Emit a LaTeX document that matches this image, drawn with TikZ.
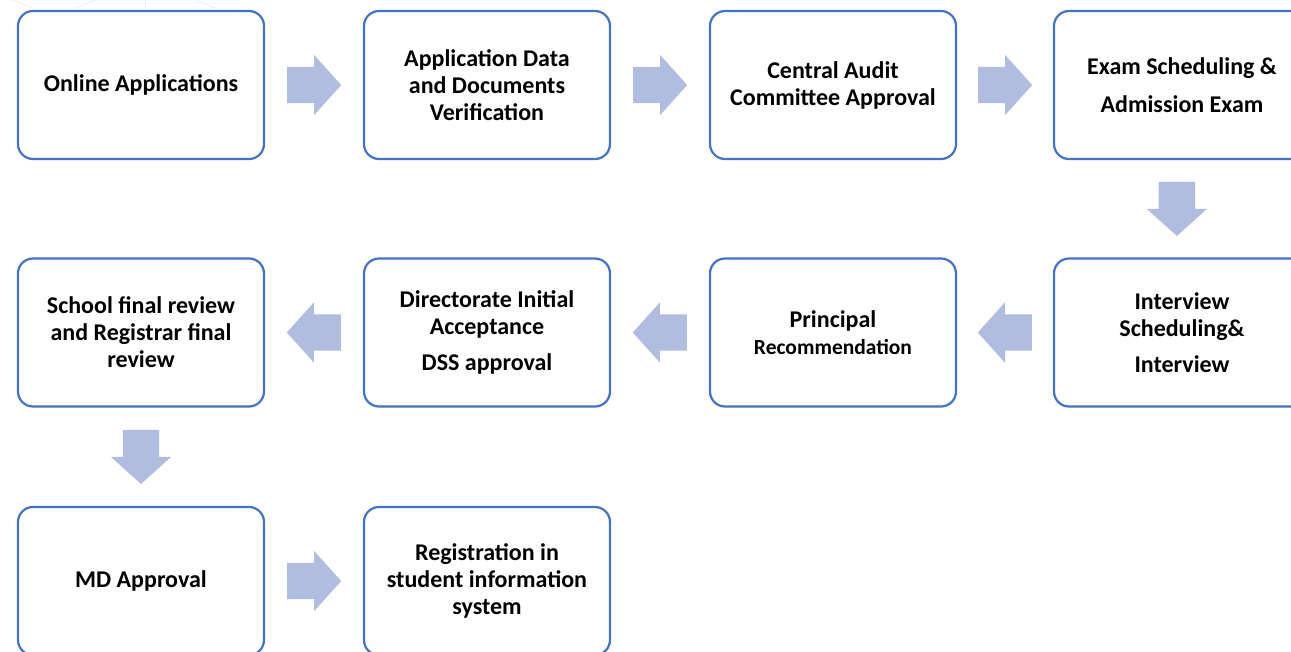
\documentclass[tikz,border=0pt]{standalone}
\usepackage{fontspec}
\setmainfont{Carlito}
\usetikzlibrary{shapes.arrows,calc}
\definecolor{boxblue}{RGB}{68,114,196}
\definecolor{arrowblue}{RGB}{176,188,224}
\tikzset{
    stepbox/.style={draw=boxblue,line width=2.2pt,rounded corners=15pt,fill=white,
        minimum width=246pt,minimum height=148pt,align=center,inner sep=0pt,
        font=\bfseries\fontsize{24}{27}\selectfont},
    flowarrow/.style={single arrow,fill=arrowblue,draw=none,minimum height=54pt,
        inner xsep=0pt,inner ysep=18pt,single arrow head extend=12pt,
        single arrow tip angle=96,anchor=tail},
}
\newcommand\StepBox[5][]{%
    \node[stepbox,#1] (#2) at (#3,#4) {#5};
}
% block arrow centred between two anchors
\newcommand\FlowArrow[4]{%
    \node[flowarrow,rotate=#4] (#1) at ($($(#2)!0.5!(#3)$)!27pt!(#2)$) {};
}

\begin{document}
\begin{tikzpicture}[x=1pt,y=-1pt]
    \useasboundingbox (0,0) rectangle (1291,651);
    \clip (0,0) rectangle (1291,651);
    % faint lines behind the first box
    \begin{scope}[color=gray!15,line width=0.8pt]
        \draw (13,0) -- (33,8);
        \draw (95,0) -- (75,8);
        \draw (145,0) -- (145,8);
        \draw (195,0) -- (215,8);
    \end{scope}
    \StepBox{online}{141}{85}{Online Applications}
    \StepBox{verify}{487}{85}{Application Data\\and Documents\\Verification}
    \StepBox{audit}{833}{85}{Central Audit\\Committee Approval}
    \StepBox[minimum width=256pt]{exam}{1182}{85}{Exam Scheduling \&\\[11pt]Admission Exam}
    \StepBox[minimum width=256pt]{interview}{1182}{332.5}{Interview\\Scheduling\&\\[9pt]Interview}
    \StepBox{principal}{833}{332.5}{Principal\\{\fontsize{21.5}{27}\selectfont Recommendation}}
    \StepBox{directorate}{487}{332.5}{Directorate Initial\\Acceptance\\[9pt]DSS approval}
    \StepBox{school}{141}{332.5}{School final review\\and Registrar final\\review}
    \StepBox{md}{141}{581}{MD Approval}
    \StepBox{registration}{487}{581}{Registration in\\student information\\system}
    \coordinate (examfoot) at ($(exam.south west)+(124,0)$);
    \coordinate (interviewtop) at ($(interview.north west)+(124,0)$);
    \FlowArrow{a1}{online.east}{verify.west}{0}
    \FlowArrow{a2}{verify.east}{audit.west}{0}
    \FlowArrow{a3}{audit.east}{exam.west}{0}
    \FlowArrow{a4}{examfoot}{interviewtop}{270}
    \FlowArrow{a5}{interview.west}{principal.east}{180}
    \FlowArrow{a6}{principal.west}{directorate.east}{180}
    \FlowArrow{a7}{directorate.west}{school.east}{180}
    \FlowArrow{a8}{school.south}{md.north}{270}
    \FlowArrow{a9}{md.east}{registration.west}{0}
\end{tikzpicture}
\end{document}
